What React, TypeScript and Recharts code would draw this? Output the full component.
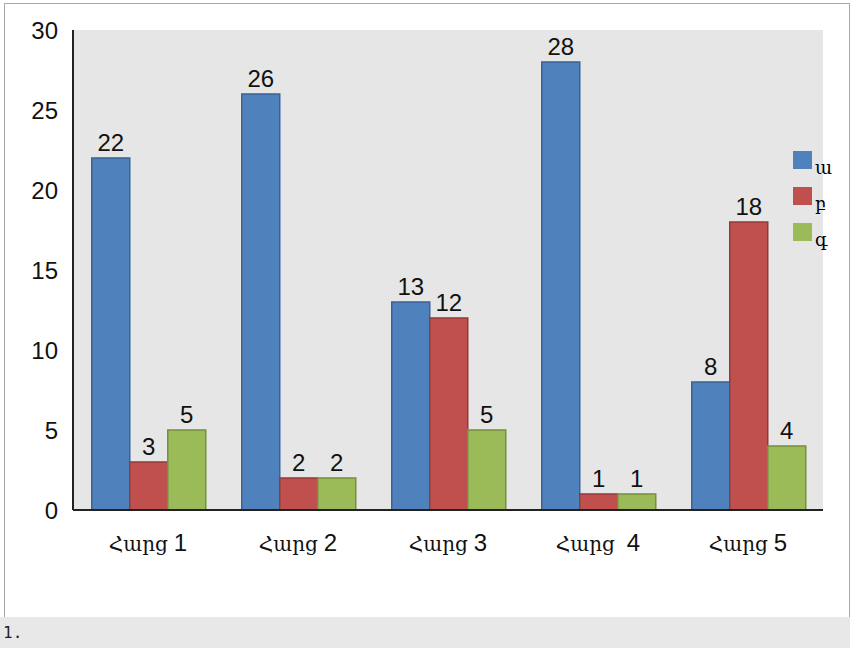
import React from 'react';
import { BarChart, Bar, XAxis, YAxis, CartesianGrid, LabelList } from 'recharts';

const categories = ['Հարց 1', 'Հարց 2', 'Հարց 3', 'Հարց 4', 'Հարց 5'];
const seriesA = [22, 26, 13, 28, 8];
const seriesB = [3, 2, 12, 1, 18];
const seriesC = [5, 2, 5, 1, 4];
const seriesNames = ['ա', 'բ', 'գ'];
const yTicks = [0, 5, 10, 15, 20, 25, 30];

const chartData = categories.map((name, i) => ({
  name,
  a: seriesA[i],
  b: seriesB[i],
  c: seriesC[i],
}));

const FONT = '"Liberation Sans", Arial, sans-serif';
const ARM = '"DejaVu Serif", serif';

const colors = [
  { fill: '#4f81bd', stroke: '#3a6393' },
  { fill: '#c0504d', stroke: '#923a38' },
  { fill: '#9bbb59', stroke: '#748f40' },
];

// x tick: armenian word in a serif face, number in sans, like the original
const CatTick = (props: any) => {
  const { x, y, payload, index } = props;
  const [word, num] = String(payload.value).split(' ');
  return (
    <text x={x} y={y + 17} textAnchor="middle" fill="#111">
      <tspan fontFamily={ARM} fontSize={20}>{word}</tspan>
      <tspan fontFamily={FONT} fontSize={24} dx={index === 3 ? 12 : 6}>{num}</tspan>
    </text>
  );
};

export default function App() {
  return (
    <div style={{ position: 'absolute', left: 0, top: 0, width: 850, height: 650, background: '#fff' }}>
      <div
        style={{
          position: 'absolute',
          left: 4,
          top: 3,
          width: 844,
          height: 613,
          border: '1px solid #a8a8a8',
          borderBottom: 'none',
        }}
      />
      <div style={{ position: 'absolute', left: 0, top: 0 }}>
        <BarChart
          width={850}
          height={650}
          data={chartData}
          margin={{ top: 30, right: 27, left: 0, bottom: 100 }}
          barCategoryGap="12.5%"
          barGap={0}
        >
          <CartesianGrid fill="#e6e6e6" horizontal={false} vertical={false} />
          <XAxis
            dataKey="name"
            height={40}
            tickLine={false}
            tickSize={0}
            tickMargin={24}
            axisLine={{ stroke: '#222', strokeWidth: 2 }}
            tick={<CatTick />}
            interval={0}
          />
          <YAxis
            width={73}
            domain={[0, 30]}
            ticks={yTicks}
            tickLine={false}
            tickSize={0}
            tickMargin={15}
            axisLine={{ stroke: '#222', strokeWidth: 2 }}
            tick={{ fill: '#111', fontSize: 24, fontFamily: FONT }}
          />
          {(['a', 'b', 'c'] as const).map((k, i) => (
            <Bar
              key={k}
              dataKey={k}
              name={seriesNames[i]}
              fill={colors[i].fill}
              stroke={colors[i].stroke}
              strokeWidth={1.5}
              isAnimationActive={false}
            >
              <LabelList
                dataKey={k}
                position="top"
                offset={7}
                fill="#111"
                fontSize={24}
                fontFamily={FONT}
              />
            </Bar>
          ))}
        </BarChart>
      </div>
      <div style={{ position: 'absolute', left: 793, top: 151, fontFamily: ARM, fontSize: 18 }}>
        {seriesNames.map((n, i) => (
          <div key={n} style={{ display: 'flex', alignItems: 'flex-end', height: 18, marginBottom: 18 }}>
            <div style={{ width: 19, height: 18, background: colors[i].fill }} />
            <span style={{ marginLeft: 3, lineHeight: '18px', position: 'relative', top: 8 }}>{n}</span>
          </div>
        ))}
      </div>
      <div
        style={{
          position: 'absolute',
          left: 0,
          top: 617,
          width: 850,
          height: 31,
          background: '#e8e8e8',
          fontFamily: '"DejaVu Sans Mono", monospace',
          fontSize: 16,
          lineHeight: '31px',
          paddingLeft: 3,
          boxSizing: 'border-box',
          color: '#222',
        }}
      >
        1.
      </div>
    </div>
  );
}
